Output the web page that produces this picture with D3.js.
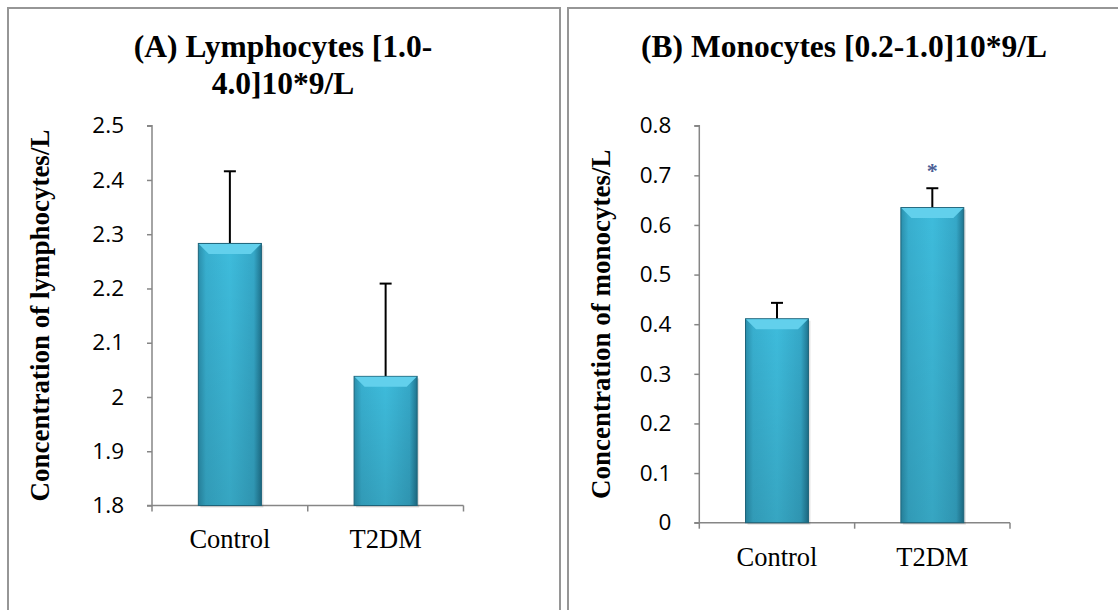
<!DOCTYPE html>
<html>
<head>
<meta charset="utf-8">
<script src="https://cdn.jsdelivr.net/npm/d3@7"></script>
<style>
  body { margin: 0; background: #fff; }
  svg { display: block; }
</style>
</head>
<body>
<svg id="chart" width="1118" height="610"></svg>
<script>
// data
const categories = ["Control", "T2DM"];

const lymphoMeans = [2.283, 2.038];
const lymphoUpper = [2.416, 2.209];
const lymphoTicks = [1.8, 1.9, 2.0, 2.1, 2.2, 2.3, 2.4, 2.5];

const monoMeans = [0.411, 0.635];
const monoUpper = [0.443, 0.674];
const monoTicks = [0, 0.1, 0.2, 0.3, 0.4, 0.5, 0.6, 0.7, 0.8];
const monoMarks = ["", "*"];

const svg = d3.select("#chart");

// bar gradient
const defs = svg.append("defs");
const grad = defs.append("linearGradient").attr("id", "barGrad")
    .attr("x1", "0").attr("x2", "1").attr("y1", "0").attr("y2", "0");
grad.append("stop").attr("offset", "0%").attr("stop-color", "#2a8fac");
grad.append("stop").attr("offset", "12%").attr("stop-color", "#38afcf");
grad.append("stop").attr("offset", "50%").attr("stop-color", "#3ebcdc");
grad.append("stop").attr("offset", "88%").attr("stop-color", "#35a8c8");
grad.append("stop").attr("offset", "100%").attr("stop-color", "#1f7590");
const vgrad = defs.append("linearGradient").attr("id", "barShade")
    .attr("x1", "0").attr("x2", "0").attr("y1", "0").attr("y2", "1");
vgrad.append("stop").attr("offset", "0%").attr("stop-color", "#000").attr("stop-opacity", 0);
vgrad.append("stop").attr("offset", "100%").attr("stop-color", "#000").attr("stop-opacity", 0.12);

// frames
svg.append("rect").attr("x", 8).attr("y", 8).attr("width", 552).attr("height", 620)
    .attr("fill", "none").attr("stroke", "#969696").attr("stroke-width", 2);
svg.append("rect").attr("x", 568).attr("y", 8).attr("width", 600).attr("height", 620)
    .attr("fill", "none").attr("stroke", "#969696").attr("stroke-width", 2);

function drawPanel(opt) {
    const g = svg.append("g");

    const x = d3.scaleBand()
        .domain(categories)
        .range([opt.left, opt.right])
        .paddingInner(0.595)
        .paddingOuter(0.2975);

    const y = d3.scaleLinear()
        .domain(opt.domain)
        .range([opt.bottom, opt.top]);

    // title
    const title = g.append("text")
        .attr("x", opt.titleX)
        .attr("y", 57)
        .attr("text-anchor", "middle")
        .style("font-family", "'Liberation Serif', 'Times New Roman', serif")
        .style("font-weight", "bold")
        .style("font-size", "31.5px");
    opt.title.forEach((line, i) => {
        title.append("tspan").attr("x", opt.titleX).attr("dy", i === 0 ? 0 : 37).text(line);
    });

    // y axis
    const yAxis = g.append("g")
        .attr("transform", `translate(${opt.left},0)`)
        .call(d3.axisLeft(y).tickValues(opt.ticks).tickSize(5).tickPadding(23)
            .tickFormat(d => d3.format("")(+d.toFixed(1))));
    yAxis.selectAll("line, path").attr("stroke", "#868686").attr("stroke-width", 1.5);
    yAxis.select("path").attr("d", `M-5,${opt.top}H0V${opt.bottom}H-5`);
    yAxis.selectAll("text")
        .style("font-family", "'Open Sans', 'Liberation Sans', sans-serif")
        .style("font-size", "22.5px")
        .attr("fill", "#000");

    // x axis
    const xAxis = g.append("g")
        .attr("transform", `translate(0,${opt.bottom})`)
        .call(d3.axisBottom(x).tickSize(0).tickPadding(24));
    xAxis.select("path").attr("stroke", "#868686").attr("stroke-width", 1.5)
        .attr("d", `M${opt.left},0H${opt.right}`);
    xAxis.selectAll("text")
        .style("font-family", "'Liberation Serif', 'Times New Roman', serif")
        .style("font-size", "26.5px")
        .attr("fill", "#000");
    // category boundary ticks
    const step = x.step();
    xAxis.selectAll(".sep")
        .data(d3.range(categories.length + 1))
        .enter().append("line")
        .attr("x1", i => opt.left + i * step)
        .attr("x2", i => opt.left + i * step)
        .attr("y1", 0).attr("y2", 6)
        .attr("stroke", "#868686").attr("stroke-width", 1.5);

    // y title
    g.append("text")
        .attr("transform", `translate(${opt.yTitleX},${(opt.top + opt.bottom) / 2}) rotate(-90)`)
        .attr("text-anchor", "middle")
        .style("font-family", "'Liberation Serif', 'Times New Roman', serif")
        .style("font-weight", "bold")
        .style("font-size", "27px")
        .text(opt.yTitle);

    // error bars (upper only)
    const err = g.selectAll(".err").data(categories).enter().append("g");
    err.append("line")
        .attr("x1", d => x(d) + x.bandwidth() / 2)
        .attr("x2", d => x(d) + x.bandwidth() / 2)
        .attr("y1", (d, i) => y(opt.means[i]))
        .attr("y2", (d, i) => y(opt.upper[i]))
        .attr("stroke", "#000").attr("stroke-width", 2);
    err.append("line")
        .attr("x1", d => x(d) + x.bandwidth() / 2 - 6)
        .attr("x2", d => x(d) + x.bandwidth() / 2 + 6)
        .attr("y1", (d, i) => y(opt.upper[i]))
        .attr("y2", (d, i) => y(opt.upper[i]))
        .attr("stroke", "#000").attr("stroke-width", 2);

    // bars
    const bars = g.selectAll(".bar").data(categories).enter().append("g");
    bars.append("rect")
        .attr("x", d => x(d) + 2)
        .attr("y", (d, i) => y(opt.means[i]) + 2)
        .attr("width", x.bandwidth())
        .attr("height", (d, i) => opt.bottom - y(opt.means[i]))
        .attr("fill", "#000").attr("opacity", 0.12);
    bars.append("rect")
        .attr("x", d => x(d))
        .attr("y", (d, i) => y(opt.means[i]))
        .attr("width", x.bandwidth())
        .attr("height", (d, i) => opt.bottom - y(opt.means[i]))
        .attr("fill", "url(#barGrad)")
        .attr("stroke", "#1d6379").attr("stroke-width", 1);
    bars.append("rect")
        .attr("x", d => x(d) + 0.5)
        .attr("y", (d, i) => y(opt.means[i]) + 0.5)
        .attr("width", x.bandwidth() - 1)
        .attr("height", (d, i) => opt.bottom - y(opt.means[i]) - 1)
        .attr("fill", "url(#barShade)");
    // top bevel
    bars.append("path")
        .attr("d", (d, i) => {
            const x0 = x(d) + 0.5, x1 = x(d) + x.bandwidth() - 0.5, t = y(opt.means[i]) + 0.5;
            return `M${x0},${t}L${x1},${t}L${x1 - 10},${t + 10}L${x0 + 10},${t + 10}Z`;
        })
        .attr("fill", "#62d0ec");

    // significance marks
    g.selectAll(".mark").data(categories).enter().append("text")
        .attr("x", d => x(d) + x.bandwidth() / 2)
        .attr("y", (d, i) => y(opt.upper[i]) - 10)
        .attr("text-anchor", "middle")
        .style("font-family", "'Liberation Serif', serif")
        .style("font-size", "22px")
        .style("font-weight", "bold")
        .attr("fill", "#4b5f96")
        .text((d, i) => opt.marks ? opt.marks[i] : "");
}

drawPanel({
    left: 152, right: 463.5, top: 125.7, bottom: 505.5,
    domain: [1.8, 2.5], ticks: lymphoTicks,
    means: lymphoMeans, upper: lymphoUpper,
    title: ["(A) Lymphocytes [1.0-", "4.0]10*9/L"], titleX: 283,
    yTitle: "Concentration of lymphocytes/L", yTitleX: 49
});

drawPanel({
    left: 699.3, right: 1010, top: 125.7, bottom: 522.7,
    domain: [0, 0.8], ticks: monoTicks,
    means: monoMeans, upper: monoUpper, marks: monoMarks,
    title: ["(B) Monocytes [0.2-1.0]10*9/L"], titleX: 844,
    yTitle: "Concentration of monocytes/L", yTitleX: 610
});
</script>
</body>
</html>
